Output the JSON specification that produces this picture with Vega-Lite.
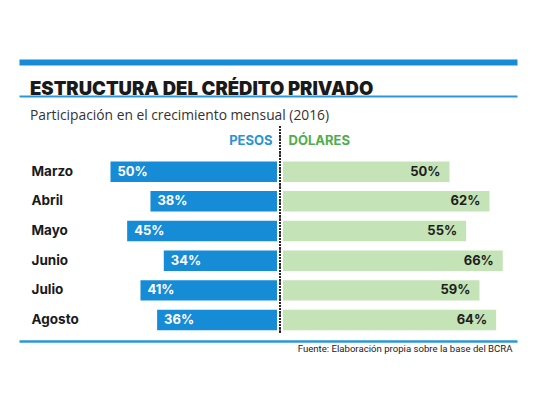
{
  "$schema": "https://vega.github.io/schema/vega-lite/v6.json",
  "width": 498,
  "height": 207,
  "autosize": {"type": "none"},
  "padding": {"left": 19, "top": 126, "right": 23, "bottom": 72},
  "background": "white",
  "title": {
    "text": "ESTRUCTURA DEL CRÉDITO PRIVADO",
    "subtitle": "Participación en el crecimiento mensual (2016)",
    "anchor": "start",
    "frame": "group",
    "dx": 11,
    "dy": 65,
    "font": "Inter",
    "fontSize": 18.5,
    "fontWeight": 900,
    "color": "#1a1a1a",
    "subtitleFont": "Open Sans",
    "subtitleFontSize": 13.8,
    "subtitleColor": "#333333",
    "subtitlePadding": 11
  },
  "data": {
    "values": [
      {"mes": "Marzo", "pesos": 0.50, "dolares": 0.50},
      {"mes": "Abril", "pesos": 0.38, "dolares": 0.62},
      {"mes": "Mayo", "pesos": 0.45, "dolares": 0.55},
      {"mes": "Junio", "pesos": 0.34, "dolares": 0.66},
      {"mes": "Julio", "pesos": 0.41, "dolares": 0.59},
      {"mes": "Agosto", "pesos": 0.36, "dolares": 0.64}
    ]
  },
  "layer": [
    {
      "encoding": {
        "y": {
          "field": "mes",
          "type": "nominal",
          "sort": null,
          "scale": {"range": [35.4, 204.3], "paddingInner": 0.31, "paddingOuter": 0},
          "axis": {
            "orient": "left",
            "title": null,
            "domain": false,
            "ticks": false,
            "tickSize": 0,
            "grid": false,
            "labelAlign": "left",
            "labelPadding": -12,
            "labelFont": "Inter",
            "labelFontSize": 13.5,
            "labelFontWeight": "bold",
            "labelColor": "#1a1a1a"
          }
        },
        "x": {
          "field": "pesos",
          "type": "quantitative",
          "scale": {"domain": [0, 1], "range": [258, -75], "zero": true, "nice": false},
          "axis": {
            "orient": "top",
            "title": "PESOS",
            "titleX": 253,
            "titleY": 14,
            "titleAlign": "right",
            "titleBaseline": "middle",
            "titleAnchor": null,
            "titleFont": "Inter",
            "titleFontSize": 13,
            "titleFontWeight": "bold",
            "titleColor": "#2a93d5",
            "domain": false,
            "labels": false,
            "ticks": false,
            "grid": false
          }
        }
      },
      "layer": [
        {"mark": {"type": "bar", "color": "#168bd6"}},
        {
          "mark": {"type": "text", "align": "left", "baseline": "middle", "dx": 7, "font": "Inter", "fontSize": 13, "fontWeight": "bold", "color": "white"},
          "encoding": {"text": {"field": "pesos", "type": "quantitative", "format": ".0%"}}
        }
      ]
    },
    {
      "encoding": {
        "y": {"field": "mes", "type": "nominal", "sort": null, "scale": {"range": [35.4, 204.3], "paddingInner": 0.31, "paddingOuter": 0}},
        "x": {
          "field": "dolares",
          "type": "quantitative",
          "scale": {"domain": [0, 1], "range": [264, 597], "zero": true, "nice": false},
          "axis": {
            "orient": "top",
            "title": "DÓLARES",
            "titleX": 269,
            "titleY": 14,
            "titleAlign": "left",
            "titleBaseline": "middle",
            "titleAnchor": null,
            "titleFont": "Inter",
            "titleFontSize": 13,
            "titleFontWeight": "bold",
            "titleColor": "#4fae4a",
            "domain": false,
            "labels": false,
            "ticks": false,
            "grid": false
          }
        }
      },
      "layer": [
        {"mark": {"type": "bar", "color": "#c4e3b6"}},
        {
          "mark": {"type": "text", "align": "right", "baseline": "middle", "dx": -9, "font": "Inter", "fontSize": 13, "fontWeight": "bold", "color": "#1e1e1e"},
          "encoding": {"text": {"field": "dolares", "type": "quantitative", "format": ".0%"}}
        }
      ]
    },
    {
      "mark": {"type": "rule", "color": "#222222", "strokeWidth": 1.6, "strokeDash": [1.6, 1.6]},
      "encoding": {
        "x": {
          "datum": 0,
          "type": "quantitative",
          "scale": {"domain": [-0.7838, 0.7117], "nice": false, "zero": false},
          "axis": {
            "orient": "bottom",
            "offset": 8,
            "domain": true,
            "domainColor": "#2a98d8",
            "domainWidth": 2.5,
            "labels": false,
            "ticks": false,
            "grid": false,
            "title": "Fuente: Elaboración propia sobre la base del BCRA",
            "titleX": 493,
            "titleY": 7,
            "titleAlign": "right",
            "titleBaseline": "middle",
            "titleAnchor": null,
            "titleFont": "Roboto",
            "titleFontSize": 9.6,
            "titleFontWeight": "normal",
            "titleColor": "#222222"
          }
        }
      }
    },
    {
      "mark": {"type": "rule", "opacity": 0},
      "encoding": {
        "x": {
          "datum": 0,
          "type": "quantitative",
          "scale": {"domain": [-0.7838, 0.7117], "nice": false, "zero": false},
          "axis": {
            "orient": "top",
            "offset": 30,
            "domain": true,
            "domainColor": "#2a98d8",
            "domainWidth": 2,
            "labels": false,
            "ticks": false,
            "grid": false,
            "title": null
          }
        }
      }
    },
    {
      "mark": {"type": "rule", "opacity": 0},
      "encoding": {
        "x": {
          "datum": 0,
          "type": "quantitative",
          "scale": {"domain": [-0.7838, 0.7117], "nice": false, "zero": false},
          "axis": {
            "orient": "top",
            "offset": 64,
            "domain": true,
            "domainColor": "#168bd6",
            "domainWidth": 6,
            "labels": false,
            "ticks": false,
            "grid": false,
            "title": null
          }
        }
      }
    }
  ],
  "resolve": {"scale": {"x": "independent"}},
  "config": {"view": {"stroke": null}}
}
